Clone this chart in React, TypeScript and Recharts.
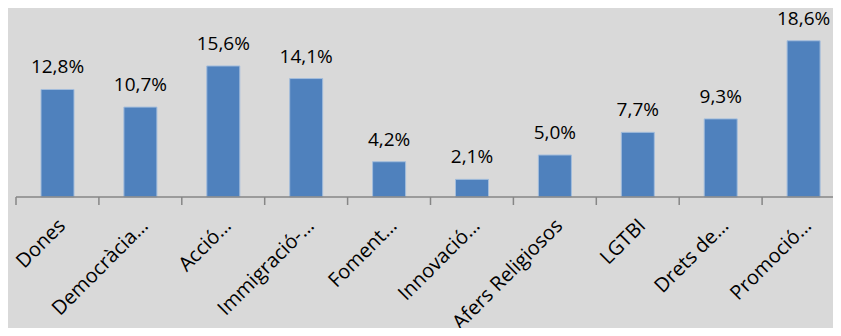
import React from "react";
import { BarChart, Bar, XAxis, YAxis, LabelList } from "recharts";

const categories = [
    "Dones",
    "Democràcia…",
    "Acció…",
    "Immigració-…",
    "Foment…",
    "Innovació…",
    "Afers Religiosos",
    "LGTBI",
    "Drets de…",
    "Promoció…",
];
const values = [12.8, 10.7, 15.6, 14.1, 4.2, 2.1, 5.0, 7.7, 9.3, 18.6];

const data = categories.map((name, i) => ({ name, value: values[i] }));

const FONT = "'Open Sans', sans-serif";
const BAND = 82.9;

const CategoryTick: React.FC<any> = ({ x, y, payload, index }) => {
    const last = index === categories.length - 1;
    const tx = x + 9;
    const ty = y + 30;
    return (
        <g>
            <line x1={x - BAND / 2} y1={y} x2={x - BAND / 2} y2={y + 8} stroke="#868686" strokeWidth={1.5} />
            {last && <line x1={x + BAND / 2} y1={y} x2={x + BAND / 2} y2={y + 8} stroke="#868686" strokeWidth={1.5} />}
            <text
                x={tx}
                y={ty}
                textAnchor="end"
                transform={`rotate(-45, ${tx}, ${ty})`}
                fontFamily={FONT}
                fontSize={20}
                fill="#000"
            >
                {payload.value}
            </text>
        </g>
    );
};

const ValueLabel: React.FC<any> = ({ x, y, width, value }) => (
    <text x={x + width / 2} y={y - 16} textAnchor="middle" fontFamily={FONT} fontSize={19} fill="#000">
        {value.toFixed(1).replace(".", ",") + "%"}
    </text>
);

export default function App() {
    return (
        <div style={{ margin: -8, width: 841, height: 336, overflow: "hidden", background: "#d9d9d9" }}>
            <BarChart width={860} height={336} data={data} margin={{ top: 29, right: 15, left: 16, bottom: 0 }}>
                <YAxis hide domain={[0, 20]} />
                <XAxis
                    dataKey="name"
                    interval={0}
                    height={139}
                    tickSize={0}
                    tickMargin={0}
                    tickLine={false}
                    axisLine={{ stroke: "#868686", strokeWidth: 1.5 }}
                    tick={<CategoryTick />}
                />
                <Bar dataKey="value" fill="#4f81bd" stroke="#a3bddc" strokeWidth={1} barSize={33} isAnimationActive={false}>
                    <LabelList dataKey="value" content={<ValueLabel />} />
                </Bar>
            </BarChart>
        </div>
    );
}
